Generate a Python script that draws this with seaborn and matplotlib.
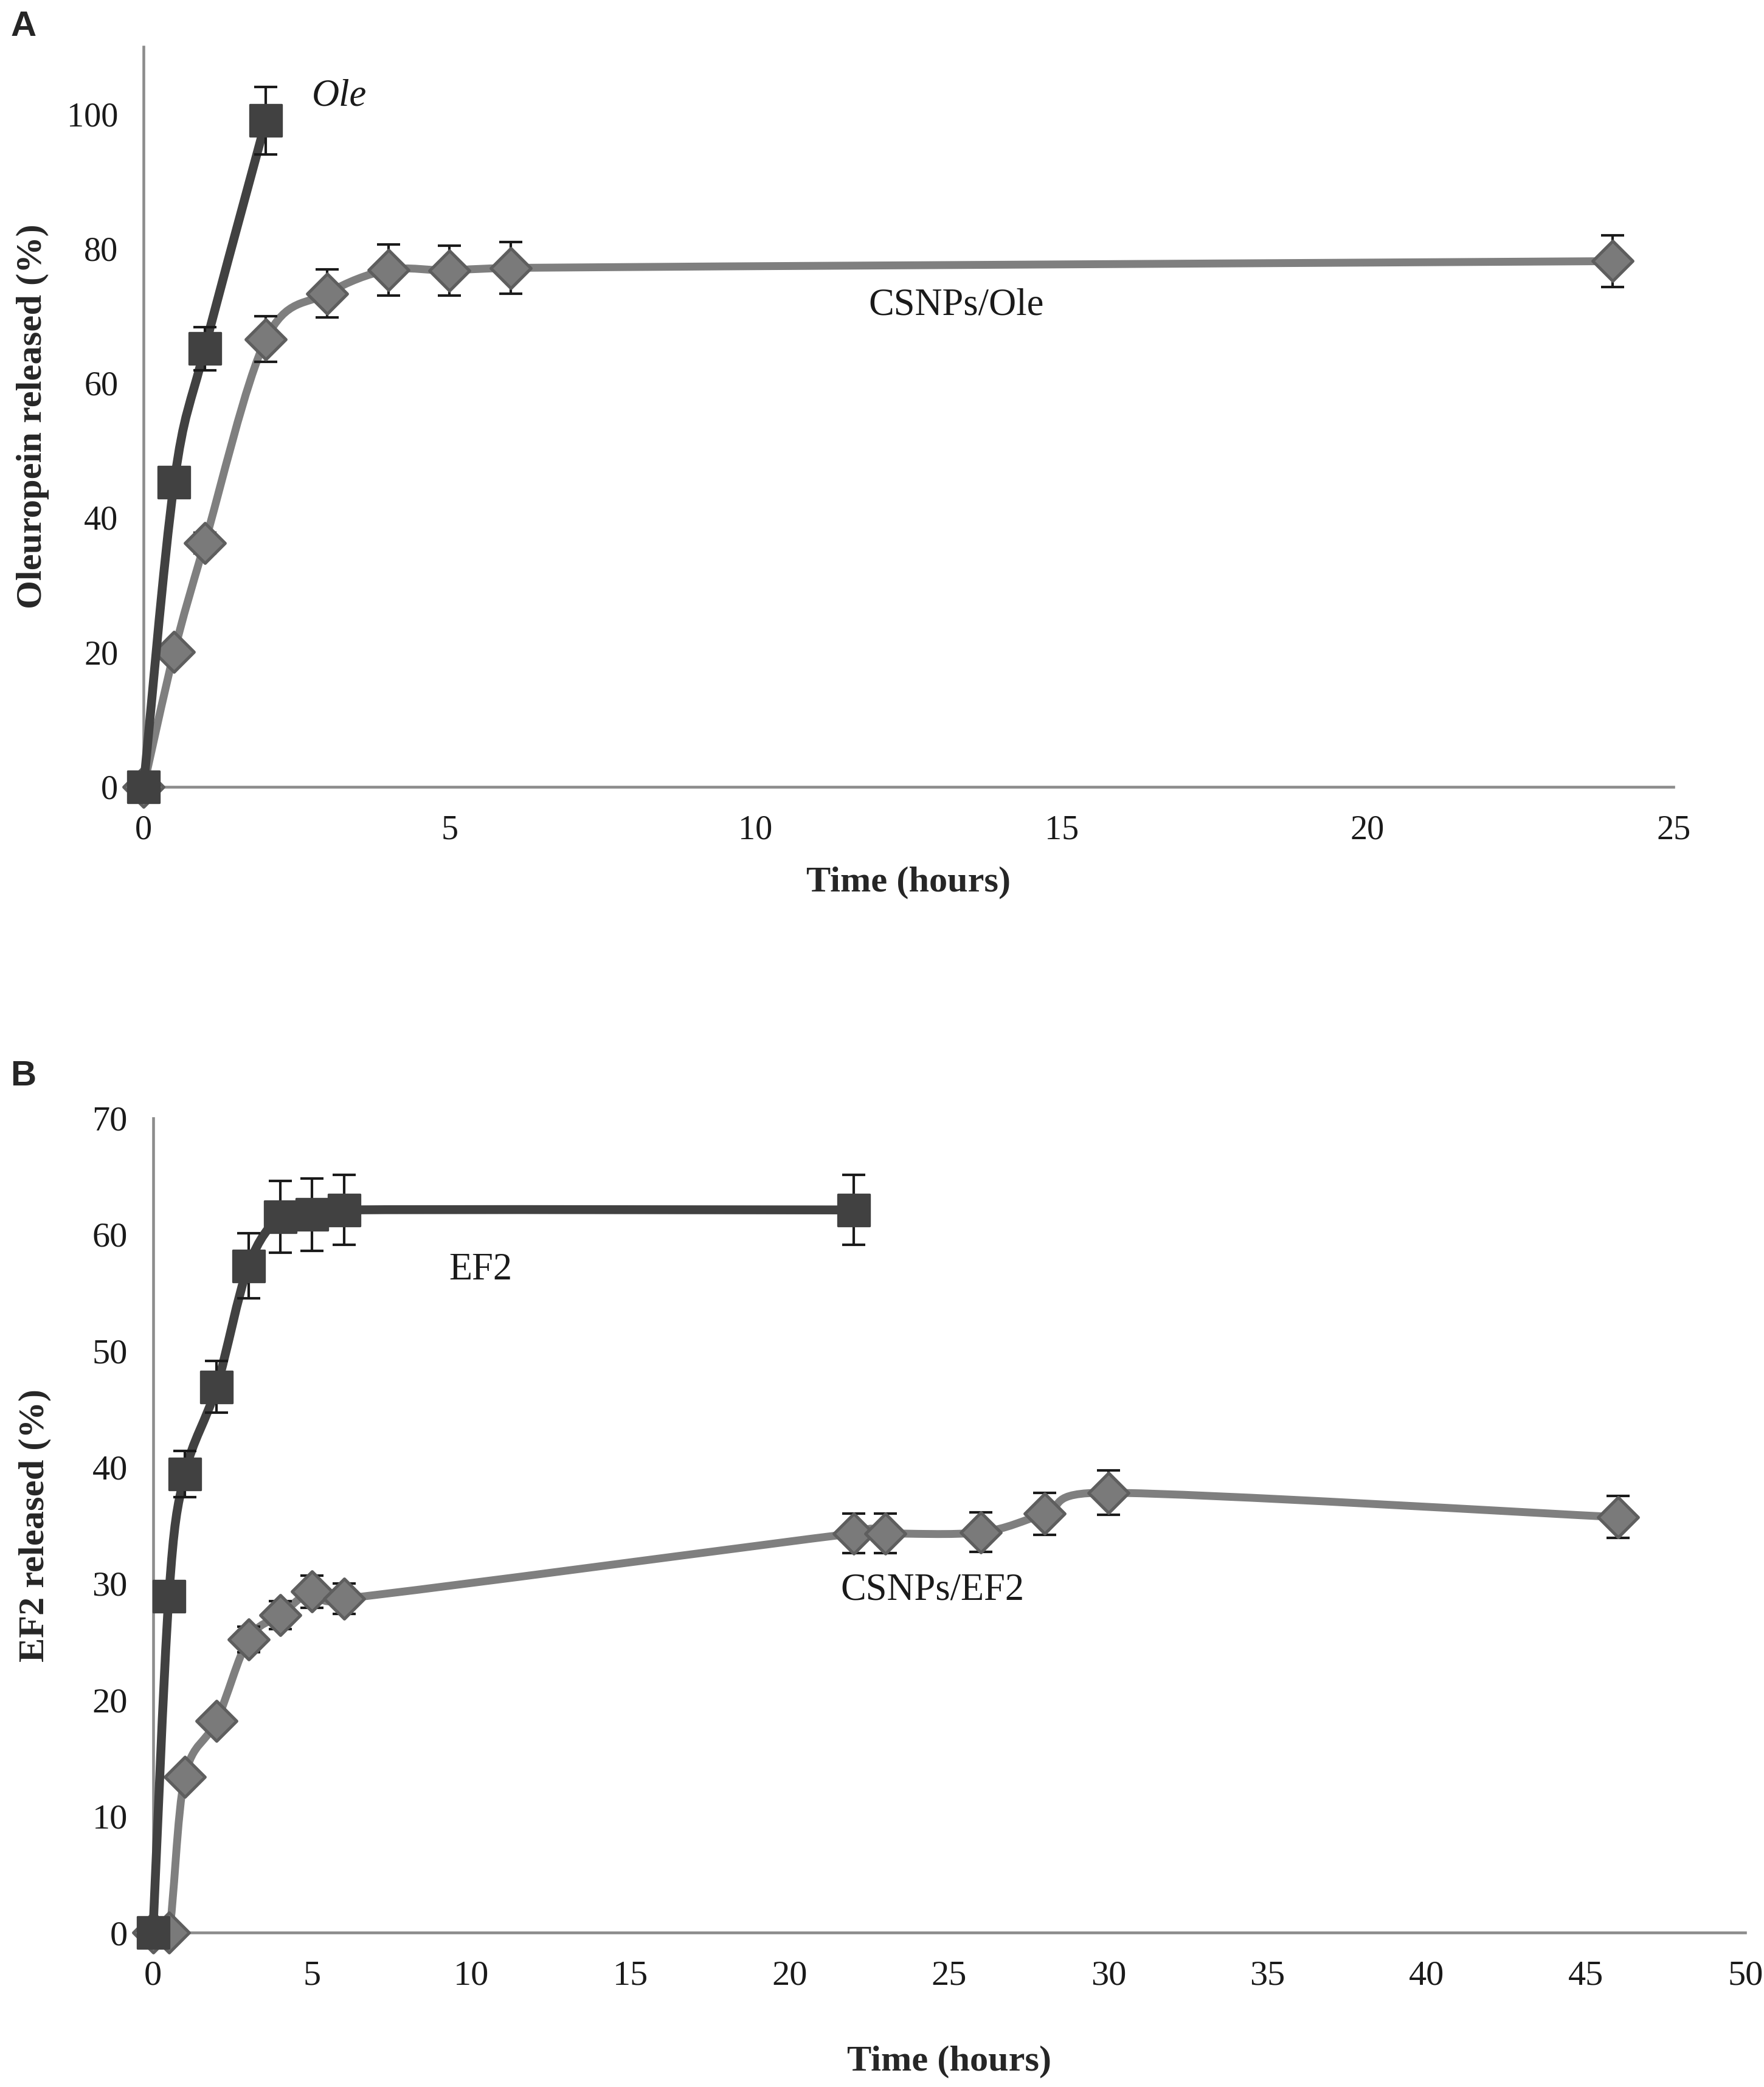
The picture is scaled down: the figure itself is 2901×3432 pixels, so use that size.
import numpy as np
import pandas as pd
import matplotlib
matplotlib.use("Agg")
import matplotlib.pyplot as plt
from matplotlib.path import Path
from matplotlib.patches import PathPatch
import seaborn as sns

# ---------------- data ----------------
# Panel A
ole_t = [0, 0.5, 1, 2]
ole_y = [0, 45.2, 65.1, 99.0]
ole_err = [0, 1.5, 3.2, 5.0]

csnp_ole_t = [0, 0.5, 1, 2, 3, 4, 5, 6, 24]
csnp_ole_y = [0, 20.0, 36.2, 66.5, 73.3, 76.8, 76.7, 77.1, 78.1]
csnp_ole_err = [0, 0.5, 1.5, 3.4, 3.6, 3.8, 3.7, 3.8, 3.8]

# Panel B
ef2_t = [0, 0.5, 1, 2, 3, 4, 5, 6, 22]
ef2_y = [0, 28.9, 39.4, 46.9, 57.3, 61.5, 61.7, 62.1, 62.1]
ef2_err = [0, 1.2, 2.0, 2.2, 2.8, 3.1, 3.1, 3.0, 3.0]

csnp_ef2_t = [0, 0.5, 1, 2, 3, 4, 5, 6, 22, 23, 26, 28, 30, 46]
csnp_ef2_y = [0, 0, 13.4, 18.2, 25.2, 27.3, 29.3, 28.7, 34.3, 34.3, 34.4, 36.0, 37.8, 35.7]
csnp_ef2_err = [0, 0, 0.5, 0.7, 1.1, 1.2, 1.4, 1.3, 1.7, 1.7, 1.7, 1.8, 1.9, 1.8]

a_xticks = [0, 5, 10, 15, 20, 25]
a_yticks = [0, 20, 40, 60, 80, 100]
b_xticks = [0, 5, 10, 15, 20, 25, 30, 35, 40, 45, 50]
b_yticks = [0, 10, 20, 30, 40, 50, 60, 70]

# ---------------- style ----------------
sns.set_theme(style="white")
plt.rcParams['font.family'] = ['Liberation Serif', 'DejaVu Serif']

DARK = "#414141"
GRAY_LINE = "#7f7f7f"
GRAY_FILL = "#7a7a7a"
GRAY_EDGE = "#5e5e5e"
SPINE = "#8c8c8c"


def smooth_line(ax, xs, ys, color, lw, zorder):
    """Excel-like smoothed line: cubic Bezier (Catmull-Rom) through the data points."""
    pts = np.column_stack([xs, ys]).astype(float)
    n = len(pts)
    verts = [pts[0]]
    codes = [Path.MOVETO]
    for i in range(n - 1):
        p0 = pts[i - 1] if i > 0 else pts[i]
        p1 = pts[i]
        p2 = pts[i + 1]
        p3 = pts[i + 2] if i + 2 < n else pts[i + 1]
        c1 = p1 + (p2 - p0) / 6.0
        c2 = p2 - (p3 - p1) / 6.0
        c1[0] = min(max(c1[0], p1[0]), p2[0])
        c2[0] = min(max(c2[0], p1[0]), p2[0])
        verts += [c1, c2, p2]
        codes += [Path.CURVE4, Path.CURVE4, Path.CURVE4]
    patch = PathPatch(Path(verts, codes), facecolor="none", edgecolor=color,
                      lw=lw, zorder=zorder, capstyle="round", joinstyle="round",
                      clip_on=False)
    ax.add_patch(patch)


def draw_series(ax, t, y, err, kind, zbase):
    df = pd.DataFrame({"t": t, "y": y})
    if kind == "square":
        smooth_line(ax, t, y, DARK, 3.5, zbase)
        ax.errorbar(t, y, yerr=err, fmt="none", ecolor="#1a1a1a", elinewidth=1.0,
                    capsize=4.5, capthick=1.0, zorder=zbase + 1, clip_on=False)
        sns.scatterplot(data=df, x="t", y="y", ax=ax, marker="s", s=155,
                        color=DARK, edgecolor=DARK, linewidth=0.8,
                        zorder=zbase + 2, clip_on=False, legend=False)
    else:
        smooth_line(ax, t, y, GRAY_LINE, 3.1, zbase)
        ax.errorbar(t, y, yerr=err, fmt="none", ecolor="#1a1a1a", elinewidth=1.0,
                    capsize=4.5, capthick=1.0, zorder=zbase + 1, clip_on=False)
        sns.scatterplot(data=df, x="t", y="y", ax=ax, marker="D", s=125,
                        color=GRAY_FILL, edgecolor=GRAY_EDGE, linewidth=1.2,
                        zorder=zbase + 2, clip_on=False, legend=False)


def style_axes(ax, xticks, yticks, xlim, ylim, fs):
    ax.set_xlim(*xlim)
    ax.set_ylim(*ylim)
    ax.set_xticks(xticks)
    ax.set_yticks(yticks)
    for side in ["top", "right"]:
        ax.spines[side].set_visible(False)
    for side in ["left", "bottom"]:
        ax.spines[side].set_color(SPINE)
        ax.spines[side].set_linewidth(1.1)
    ax.tick_params(axis="both", which="major", direction="out", length=4,
                   width=1.1, color=SPINE, labelsize=fs, labelcolor="#1a1a1a")
    ax.tick_params(axis="x", pad=7)
    ax.tick_params(axis="y", pad=6)
    ax.grid(False)
    ax.set_facecolor("white")


fig = plt.figure(figsize=(2901 / 300, 3432 / 300), dpi=300)

# ---------- Panel A ----------
axA = fig.add_axes([0.0814, 0.6231, 0.9487 - 0.0814, 0.3546])
draw_series(axA, csnp_ole_t, csnp_ole_y, csnp_ole_err, "diamond", 3)
draw_series(axA, ole_t, ole_y, ole_err, "square", 6)
style_axes(axA, a_xticks, a_yticks, (0, 25), (0, 110), 13.5)
axA.set_xlabel("Time (hours)", fontsize=14.5, fontweight="bold", labelpad=8)
axA.set_ylabel("Oleuropein released (%)", fontsize=14.5, fontweight="bold", labelpad=7)
axA.text(2.75, 102.6, "Ole", fontsize=15, fontstyle="italic", va="center", ha="left",
         color="#1a1a1a")
axA.text(11.85, 71.5, "CSNPs/Ole", fontsize=15, va="center", ha="left", color="#1a1a1a")

# ---------- Panel B ----------
axB = fig.add_axes([0.0867, 0.074, 0.9894 - 0.0867, 0.4643 - 0.074])
draw_series(axB, csnp_ef2_t, csnp_ef2_y, csnp_ef2_err, "diamond", 3)
draw_series(axB, ef2_t, ef2_y, ef2_err, "square", 6)
style_axes(axB, b_xticks, b_yticks, (0, 50), (0, 70), 14)
axB.set_xlabel("Time (hours)", fontsize=14.5, fontweight="bold", labelpad=21)
axB.set_ylabel("EF2 released (%)", fontsize=14.5, fontweight="bold", labelpad=16)
axB.text(9.3, 56.9, "EF2", fontsize=15, va="center", ha="left", color="#1a1a1a")
axB.text(21.6, 29.4, "CSNPs/EF2", fontsize=15, va="center", ha="left", color="#1a1a1a")

# panel letters
fig.text(0.006, 0.995, "A", fontsize=14, fontweight="bold", family=["Liberation Sans", "DejaVu Sans"],
         va="top", ha="left")
fig.text(0.006, 0.492, "B", fontsize=14, fontweight="bold", family=["Liberation Sans", "DejaVu Sans"],
         va="top", ha="left")

fig.savefig("out.png", dpi=300, facecolor="white")
